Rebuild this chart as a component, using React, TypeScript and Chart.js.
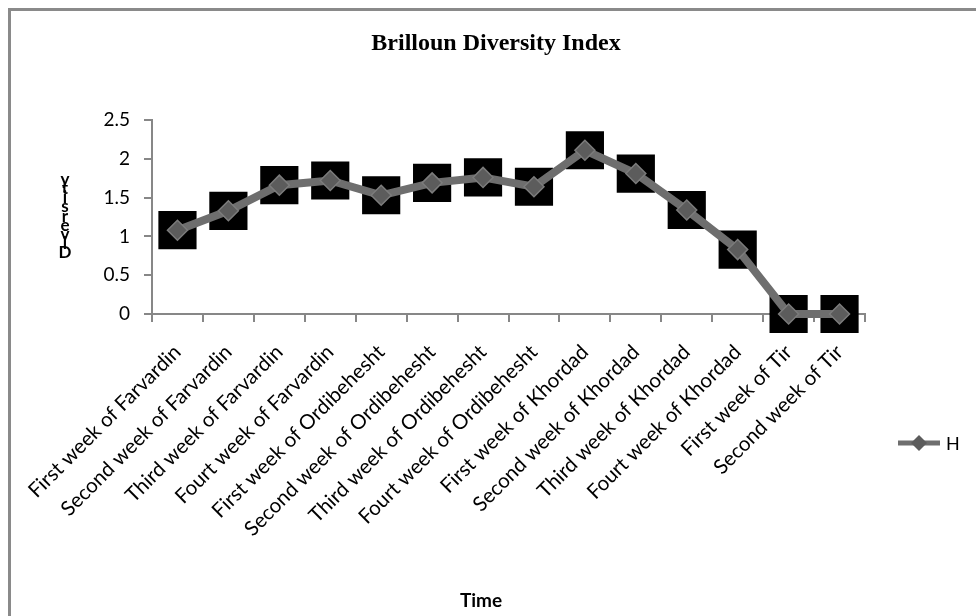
import React, { useEffect, useRef } from "react";
import { Chart, registerables } from "chart.js";

Chart.register(...registerables);

const categories = [
  "First week of Farvardin",
  "Second week of Farvardin",
  "Third week of Farvardin",
  "Fourt week of Farvardin",
  "First week of Ordibehesht",
  "Second week of Ordibehesht",
  "Third week of Ordibehesht",
  "Fourt week of Ordibehesht",
  "First week of Khordad",
  "Second week of Khordad",
  "Third week of Khordad",
  "Fourt week of Khordad",
  "First week of Tir",
  "Second week of Tir",
];
const hValues = [1.08, 1.33, 1.66, 1.72, 1.53, 1.69, 1.76, 1.64, 2.11, 1.81, 1.34, 0.83, 0, 0];
const yTickValues = [0, 0.5, 1, 1.5, 2, 2.5];
const chartTitle = "Brilloun Diversity Index";
const yTitle = "Diversity";
const xTitle = "Time";
const seriesName = "H";

const W = 976;
const H = 616;
const AXIS_GRAY = "#878787";
const LINE_GRAY = "#6e6e6e";

const decor = {
  id: "decor",
  beforeDraw(chart: any) {
    const ctx = chart.ctx;
    ctx.save();
    ctx.fillStyle = "#ffffff";
    ctx.fillRect(0, 0, chart.width, chart.height);
    ctx.restore();
  },
  afterDraw(chart: any) {
    const ctx = chart.ctx;
    ctx.save();
    // outer frame (only top/left visible in the window)
    ctx.fillStyle = "#8a8a8a";
    ctx.fillRect(8, 8, chart.width, 3);
    ctx.fillRect(8, 8, 3, chart.height);

    // title
    ctx.fillStyle = "#000";
    ctx.textAlign = "center";
    ctx.textBaseline = "middle";
    ctx.font = 'bold 24px "Liberation Serif"';
    ctx.fillText(chartTitle, 496, 44);

    // stacked y-axis title, reading bottom to top
    ctx.font = "bold 17px Lato";
    const chars = Array.from(yTitle);
    chars.forEach((c, i) => {
      ctx.fillText(c, 65, 253 - i * 9.2);
    });

    // x-axis title
    ctx.font = "bold 19px Lato";
    ctx.fillText(xTitle, 481, 601);

    // legend
    const ly = 443;
    ctx.strokeStyle = LINE_GRAY;
    ctx.lineWidth = 5;
    ctx.beginPath();
    ctx.moveTo(898, ly);
    ctx.lineTo(940, ly);
    ctx.stroke();
    ctx.fillStyle = "#5c5c5c";
    ctx.beginPath();
    ctx.moveTo(919, ly - 8);
    ctx.lineTo(927, ly);
    ctx.lineTo(919, ly + 8);
    ctx.lineTo(911, ly);
    ctx.closePath();
    ctx.fill();
    ctx.fillStyle = "#000";
    ctx.textAlign = "left";
    ctx.font = "18px Lato";
    ctx.fillText(seriesName, 946, ly + 1);
    ctx.restore();
  },
};

export default function App() {
  const ref = useRef<HTMLCanvasElement | null>(null);

  useEffect(() => {
    const canvas = ref.current;
    if (!canvas) return;
    const chart = new Chart(canvas, {
      type: "line",
      data: {
        labels: categories,
        datasets: [
          {
            label: seriesName,
            data: hValues,
            borderColor: LINE_GRAY,
            borderWidth: 8,
            pointStyle: "rectRot",
            pointRadius: 10,
            pointBackgroundColor: "#5c5c5c",
            pointBorderColor: "#7c7c7c",
            pointBorderWidth: 1.5,
            tension: 0,
            clip: false,
          },
          {
            label: "marker-back",
            data: hValues,
            showLine: false,
            pointStyle: "rect",
            pointRadius: 27,
            pointBackgroundColor: "#000000",
            pointBorderColor: "#000000",
            pointBorderWidth: 0,
            clip: false,
          },
        ],
      },
      plugins: [decor],
      options: {
        responsive: false,
        animation: false,
        devicePixelRatio: 1,
        layout: { padding: { top: 120, right: 111, bottom: 0, left: 0 } },
        plugins: {
          legend: { display: false },
          title: { display: false },
          tooltip: { enabled: false },
        },
        scales: {
          x: {
            type: "category",
            offset: true,
            afterFit(scale: any) {
              scale.height = H - 314;
            },
            grid: {
              offset: true,
              drawOnChartArea: false,
              drawTicks: true,
              tickLength: 8,
              color: AXIS_GRAY,
              lineWidth: 2,
            },
            border: { color: AXIS_GRAY, width: 2 },
            ticks: {
              autoSkip: false,
              minRotation: 45,
              maxRotation: 45,
              padding: 18,
              color: "#000",
              font: { family: "Lato", size: 20.5 },
            },
          },
          y: {
            min: 0,
            max: 2.5,
            afterFit(scale: any) {
              scale.width = 152;
            },
            afterBuildTicks(scale: any) {
              scale.ticks = yTickValues.map((v) => ({ value: v }));
            },
            grid: {
              drawOnChartArea: false,
              drawTicks: true,
              tickLength: 8,
              color: AXIS_GRAY,
              lineWidth: 2,
            },
            border: { color: AXIS_GRAY, width: 2 },
            ticks: {
              padding: 14,
              color: "#000",
              font: { family: "Lato", size: 19 },
              callback: (v: any) => String(v),
            },
          },
        },
      },
    });
    return () => chart.destroy();
  }, []);

  return (
    <div
      style={{
        position: "fixed",
        left: 0,
        top: 0,
        width: W,
        height: H,
        overflow: "hidden",
        background: "#fff",
      }}
    >
      <canvas ref={ref} width={W} height={H} style={{ display: "block", width: W, height: H }} />
    </div>
  );
}
